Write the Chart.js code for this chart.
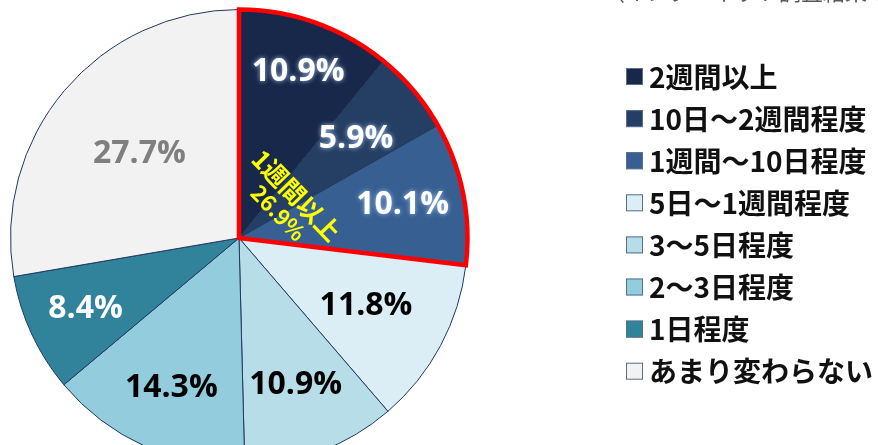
<!DOCTYPE html>
<html>
<head>
<meta charset="utf-8">
<script src="https://cdn.jsdelivr.net/npm/chart.js@4"></script>
<style>
  html, body { margin: 0; padding: 0; background: #fff; }
  #wrap { position: relative; width: 878px; height: 445px; overflow: hidden; }
  #wrap canvas { position: absolute; left: 0; top: 0; }
</style>
</head>
<body>
<div id="wrap"><canvas id="chartCanvas" width="878" height="480"></canvas></div>
<script>
// categories (clockwise from 12 o'clock)
var categories = ['2週間以上', '10日～2週間程度', '1週間～10日程度', '5日～1週間程度',
                  '3～5日程度', '2～3日程度', '1日程度', 'あまり変わらない'];
var shares = [10.9, 5.9, 10.1, 11.8, 10.9, 14.3, 8.4, 27.7];
var groupLabel = '1週間以上';
var groupCount = 3; // first three slices
var noteText = '（インターネット調査結果の合計値）';

var sliceColors = ['#17284a', '#243f63', '#375f92', '#dbeef5', '#b7dde8', '#93cddd', '#31839b', '#f2f2f2'];
var labelColors = ['#ffffff', '#ffffff', '#ffffff', '#000000', '#000000', '#000000', '#ffffff', '#7f7f7f'];
var labelGlow = [true, true, true, false, false, false, false, false];
var labelRadius = [0.77, 0.67, 0.73, 0.63, 0.69, 0.72, 0.74, 0.57];

var pieFont = 'bold 32px "Open Sans", "Liberation Sans", sans-serif';
var jpFont = '"Noto Sans CJK JP", sans-serif';

var sliceLabels = {
  id: 'sliceLabels',
  afterDatasetsDraw: function(chart) {
    var ctx = chart.ctx;
    var arcs = chart.getDatasetMeta(0).data;
    ctx.save();
    ctx.font = pieFont;
    ctx.textAlign = 'center';
    ctx.textBaseline = 'middle';
    arcs.forEach(function(arc, i) {
      var mid = (arc.startAngle + arc.endAngle) / 2;
      var r = arc.outerRadius * labelRadius[i];
      var x = arc.x + r * Math.cos(mid);
      var y = arc.y + r * Math.sin(mid);
      if (labelGlow[i]) {
        ctx.shadowColor = 'rgba(170,195,235,0.95)';
        ctx.shadowBlur = 5;
      } else {
        ctx.shadowColor = 'transparent';
        ctx.shadowBlur = 0;
      }
      ctx.fillStyle = labelColors[i];
      ctx.fillText(shares[i].toFixed(1) + '%', x, y);
    });
    ctx.restore();
  }
};

var groupOutline = {
  id: 'groupOutline',
  afterDatasetsDraw: function(chart) {
    var ctx = chart.ctx;
    var arcs = chart.getDatasetMeta(0).data;
    var a0 = arcs[0], a1 = arcs[groupCount - 1];
    var total = 0;
    for (var i = 0; i < groupCount; i++) total += shares[i];

    ctx.save();
    ctx.strokeStyle = '#ff0000';
    ctx.lineWidth = 4.5;
    ctx.lineJoin = 'miter';
    ctx.beginPath();
    ctx.moveTo(a0.x, a0.y);
    ctx.arc(a0.x, a0.y, a0.outerRadius, a0.startAngle, a1.endAngle);
    ctx.closePath();
    ctx.stroke();

    // rotated yellow label
    var mid = (a0.startAngle + a1.endAngle) / 2 + 0.08;
    var r = a0.outerRadius * 0.26;
    var x = a0.x + r * Math.cos(mid);
    var y = a0.y + r * Math.sin(mid);
    ctx.translate(x, y);
    ctx.rotate(46 * Math.PI / 180);
    ctx.fillStyle = '#ffff00';
    ctx.textAlign = 'center';
    ctx.textBaseline = 'middle';
    ctx.font = 'bold 25px ' + jpFont;
    ctx.fillText(groupLabel, 2, -12);
    ctx.font = 'bold 22px ' + jpFont;
    ctx.fillText(total.toFixed(1) + '%', 2, 13);
    ctx.restore();
  }
};

var sideLegend = {
  id: 'sideLegend',
  afterDraw: function(chart) {
    var ctx = chart.ctx;
    ctx.save();
    // note at the very top, mostly cut off
    ctx.font = '22px ' + jpFont;
    ctx.fillStyle = '#595959';
    ctx.textAlign = 'left';
    ctx.textBaseline = 'alphabetic';
    ctx.fillText(noteText, 603, 0);

    ctx.font = 'bold 28px ' + jpFont;
    ctx.textBaseline = 'middle';
    categories.forEach(function(name, i) {
      var cy = 76 + i * 42.1;
      ctx.fillStyle = sliceColors[i];
      ctx.fillRect(626, cy - 8, 17, 17);
      ctx.strokeStyle = '#5a6f8c';
      ctx.lineWidth = 1;
      ctx.strokeRect(626.5, cy - 7.5, 16, 16);
      ctx.fillStyle = '#111111';
      ctx.fillText(name, 649, cy + 1);
    });
    ctx.restore();
  }
};

new Chart(document.getElementById('chartCanvas').getContext('2d'), {
  type: 'pie',
  data: {
    labels: categories,
    datasets: [{
      data: shares,
      backgroundColor: sliceColors,
      borderColor: '#22395e',
      borderWidth: 1
    }]
  },
  options: {
    responsive: false,
    animation: false,
    layout: { padding: { left: 10, top: 9, right: 410, bottom: 13 } },
    plugins: {
      legend: { display: false },
      tooltip: { enabled: false }
    }
  },
  plugins: [sliceLabels, groupOutline, sideLegend]
});
</script>
</body>
</html>
